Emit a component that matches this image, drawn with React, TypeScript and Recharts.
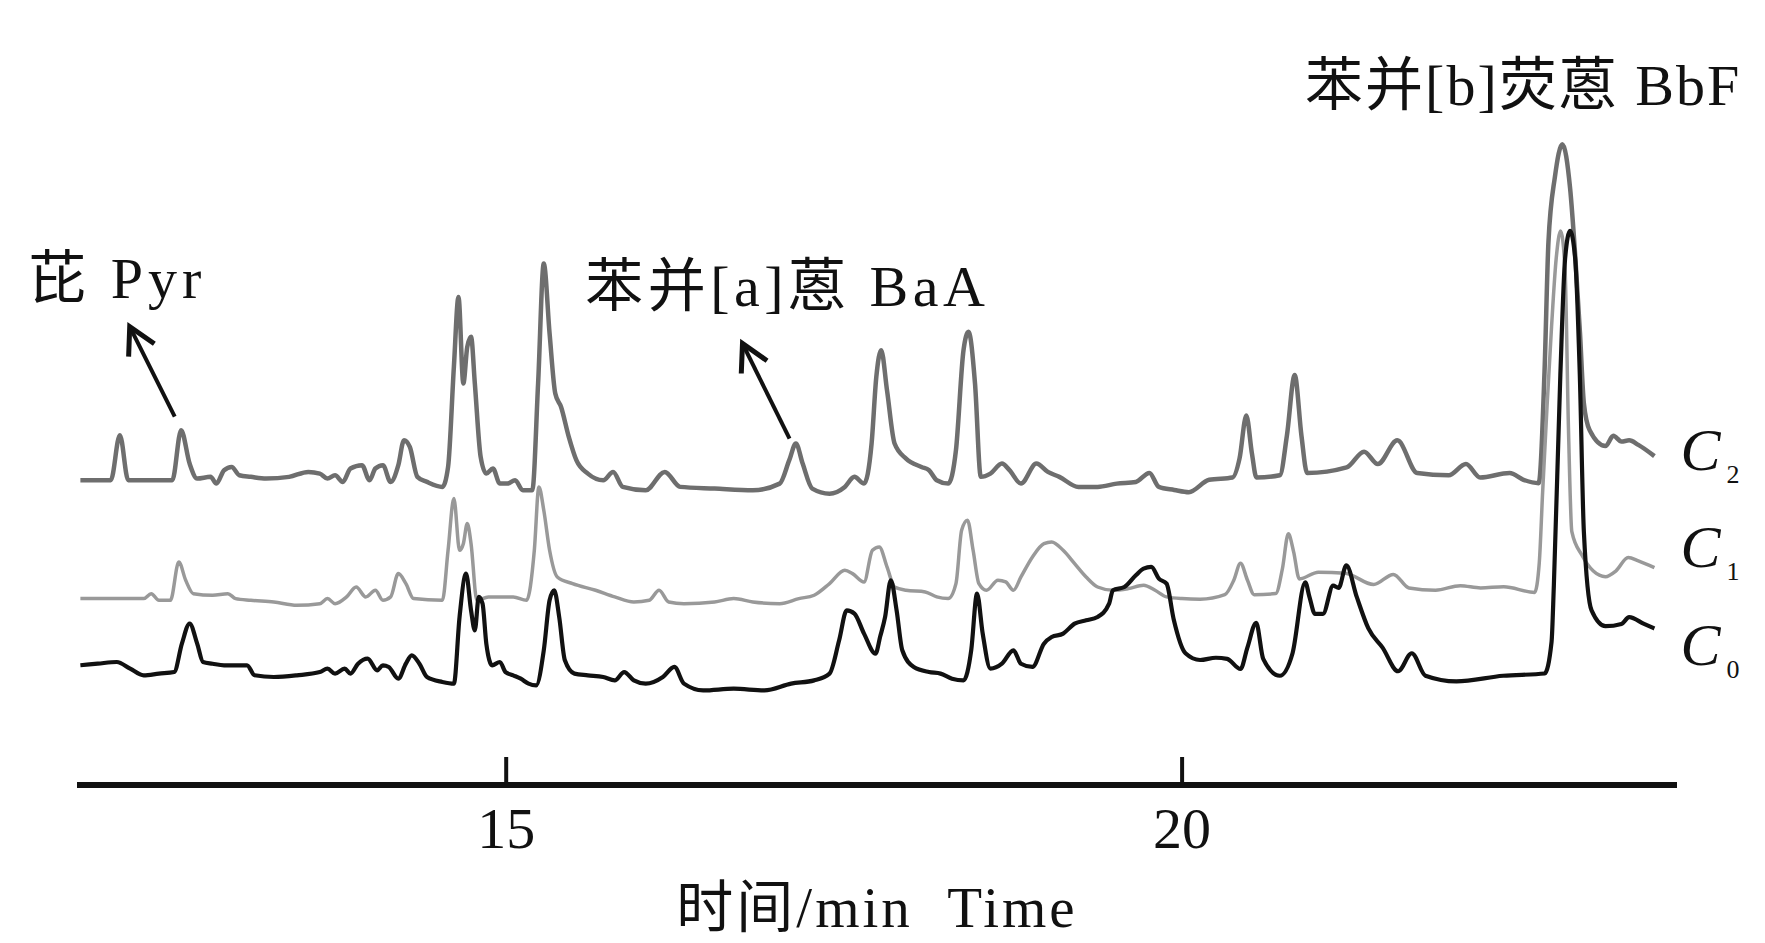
import { LineChart, Line, XAxis, YAxis, ReferenceDot, ReferenceLine } from "recharts";

// retention time (min), detector signal (traces offset as in the figure)
const c2Trace: [number, number][] = [
  [11.85, 270.6], [12.075, 270.6], [12.142, 310.6], [12.204, 270.6], [12.53, 270.6], [12.595, 315],
  [12.658, 285.4], [12.714, 272.1], [12.813, 273.6], [12.856, 267.6], [12.913, 279.5], [12.969, 282.4],
  [13.026, 275], [13.111, 273.6], [13.224, 272.1], [13.394, 273.6], [13.536, 278], [13.621, 276.5],
  [13.678, 272.1], [13.734, 275], [13.791, 269.1], [13.848, 281], [13.933, 284], [13.989, 270.6],
  [14.032, 281], [14.088, 284], [14.145, 269.1], [14.202, 284], [14.244, 306.1], [14.287, 300.2],
  [14.343, 273.6], [14.414, 269.1], [14.528, 264.7], [14.57, 282.4], [14.613, 371.3], [14.647, 433.4],
  [14.683, 356.5], [14.712, 389], [14.74, 397.9], [14.768, 356.5], [14.811, 291.3], [14.853, 276.5],
  [14.902, 281], [14.953, 267.6], [15.009, 267.6], [15.066, 270.6], [15.123, 261.7], [15.193, 261.7],
  [15.236, 356.5], [15.278, 463], [15.321, 400.9], [15.363, 347.6], [15.406, 335.7], [15.463, 309.1],
  [15.519, 288.4], [15.604, 276.5], [15.718, 270.6], [15.791, 278], [15.862, 264.7], [16.032, 261.7],
  [16.173, 278], [16.287, 264.7], [16.542, 263.2], [16.825, 261.7], [17.023, 267.6], [17.094, 288.4],
  [17.143, 303.2], [17.193, 285.4], [17.264, 263.2], [17.392, 258.7], [17.505, 264.7], [17.576, 273.6],
  [17.647, 267.6], [17.703, 303.2], [17.738, 362.4], [17.774, 386.1], [17.817, 350.5], [17.873, 303.2],
  [17.958, 289.8], [18.072, 282.4], [18.128, 279.5], [18.185, 270.6], [18.27, 267.6], [18.327, 297.2],
  [18.383, 386.1], [18.42, 402.4], [18.468, 356.5], [18.511, 273.6], [18.582, 276.5], [18.667, 285.4],
  [18.723, 279.5], [18.808, 267.6], [18.922, 285.4], [19.007, 278], [19.092, 273.6], [19.233, 264.7],
  [19.375, 264.7], [19.517, 267.6], [19.658, 269.1], [19.758, 277.1], [19.828, 264.7], [19.942, 262],
  [20.05, 260], [20.2, 271], [20.373, 273], [20.425, 290], [20.475, 328], [20.517, 294], [20.55, 273],
  [20.723, 275], [20.775, 310], [20.833, 364], [20.883, 310], [20.925, 277], [21.217, 282], [21.346, 296],
  [21.448, 285], [21.592, 306], [21.739, 277], [21.972, 275], [22.1, 285], [22.205, 273], [22.423, 277],
  [22.525, 271], [22.638, 268], [22.681, 367], [22.71, 482], [22.758, 540], [22.813, 569], [22.87, 530],
  [22.908, 470], [22.943, 402], [22.972, 339], [23.015, 315], [23.132, 301], [23.19, 310], [23.25, 305],
  [23.307, 306], [23.375, 302], [23.494, 292],
];

const c1Trace: [number, number][] = [
  [11.85, 165.5], [12.318, 165.5], [12.374, 169.9], [12.431, 164], [12.516, 164], [12.578, 198],
  [12.629, 181.8], [12.686, 169.9], [12.828, 168.5], [12.941, 169.9], [12.998, 165.5], [13.111, 164],
  [13.281, 162.5], [13.451, 159.6], [13.621, 161], [13.678, 165.5], [13.734, 161], [13.819, 167],
  [13.89, 175.8], [13.961, 167], [14.032, 172.9], [14.088, 164], [14.145, 167], [14.202, 187.7],
  [14.258, 178.8], [14.315, 165.5], [14.528, 164], [14.57, 208.4], [14.613, 254.3], [14.655, 208.4],
  [14.683, 214.3], [14.712, 232.1], [14.74, 214.3], [14.783, 164], [14.868, 167], [14.953, 167],
  [15.052, 167], [15.151, 164], [15.208, 208.4], [15.242, 264.7], [15.278, 243.9], [15.321, 208.4],
  [15.378, 184.7], [15.491, 178.8], [15.661, 172.9], [15.803, 167], [15.944, 162.5], [16.058, 164],
  [16.131, 172.9], [16.202, 162.5], [16.315, 161], [16.542, 162.5], [16.683, 165.5], [16.825, 162.5],
  [17.023, 161], [17.165, 165.5], [17.278, 168.5], [17.392, 178.8], [17.505, 190.6], [17.562, 187.7],
  [17.647, 180.3], [17.709, 208.4], [17.76, 211.4], [17.817, 193.6], [17.873, 175.8], [17.958, 172.9],
  [18.1, 171.4], [18.185, 167], [18.27, 165.5], [18.327, 178.8], [18.369, 226.2], [18.412, 235.1],
  [18.454, 208.4], [18.497, 178.8], [18.553, 172.9], [18.638, 181.8], [18.695, 180.3], [18.752, 172.9],
  [18.808, 184.7], [18.893, 202.5], [18.978, 214.3], [19.035, 215.8], [19.12, 208.4], [19.205, 196.6],
  [19.29, 184.7], [19.375, 175.8], [19.488, 172.9], [19.602, 174.4], [19.715, 177.3], [19.8, 172.9],
  [19.885, 167], [19.998, 165.5], [20.133, 165], [20.316, 169], [20.383, 182], [20.432, 197],
  [20.483, 182], [20.533, 169], [20.693, 170], [20.742, 192], [20.786, 223], [20.825, 207], [20.867, 183],
  [21.008, 189], [21.208, 188], [21.417, 178], [21.563, 187], [21.678, 175], [21.875, 173], [22.058, 177],
  [22.208, 175], [22.379, 176], [22.608, 171], [22.642, 197], [22.667, 260], [22.7, 337], [22.733, 407],
  [22.767, 467], [22.8, 492], [22.833, 457], [22.858, 317], [22.883, 225], [22.958, 204], [23.042, 190],
  [23.132, 185], [23.208, 190], [23.3, 202], [23.375, 199], [23.494, 193],
];

const c0Trace: [number, number][] = [
  [11.85, 106.3], [11.978, 107.7], [12.119, 109.2], [12.218, 103.3], [12.318, 97.4], [12.431, 98.9],
  [12.544, 100.3], [12.601, 125.5], [12.658, 143.3], [12.714, 125.5], [12.757, 109.2], [12.828, 107.7],
  [12.913, 106.3], [12.998, 106.3], [13.083, 106.3], [13.139, 97.4], [13.281, 95.9], [13.451, 97.4],
  [13.621, 100.3], [13.678, 103.3], [13.734, 98.9], [13.805, 103.3], [13.848, 98.9], [13.904, 107.7],
  [13.975, 112.2], [14.046, 101.8], [14.088, 106.3], [14.131, 104.8], [14.202, 94.4], [14.258, 107.7],
  [14.301, 115.1], [14.358, 107.7], [14.414, 95.9], [14.528, 91.5], [14.613, 90], [14.655, 149.2],
  [14.703, 187.7], [14.74, 155.1], [14.768, 137.3], [14.797, 167], [14.825, 161], [14.853, 125.5],
  [14.896, 106.3], [14.953, 109.2], [14.995, 100.3], [15.052, 97.4], [15.108, 94.4], [15.165, 90],
  [15.222, 88.5], [15.278, 119.6], [15.321, 164], [15.355, 172.9], [15.392, 149.2], [15.434, 110.7],
  [15.505, 98.9], [15.604, 97.4], [15.718, 95.9], [15.803, 92.9], [15.873, 100.3], [15.944, 92.9],
  [16.032, 90], [16.159, 95.9], [16.244, 104.8], [16.315, 90], [16.457, 84], [16.683, 85.5], [16.91, 84],
  [17.108, 90], [17.278, 92.9], [17.392, 98.9], [17.463, 128.5], [17.519, 155.1], [17.576, 152.2],
  [17.647, 134.4], [17.732, 116.6], [17.767, 132], [17.803, 149.2], [17.845, 181.8], [17.888, 155.1],
  [17.93, 119.6], [18.015, 104.8], [18.128, 100.3], [18.213, 98.9], [18.298, 94.4], [18.383, 92.9],
  [18.44, 119.6], [18.483, 169.9], [18.525, 134.4], [18.582, 103.3], [18.667, 107.7], [18.752, 119.6],
  [18.808, 107.7], [18.893, 104.8], [18.978, 125.5], [19.035, 131.4], [19.12, 134.4], [19.205, 143.3],
  [19.29, 146.2], [19.375, 149.2], [19.46, 161], [19.488, 172.9], [19.573, 175.8], [19.658, 186.2],
  [19.715, 192.1], [19.772, 193.6], [19.828, 183.2], [19.885, 178.8], [19.938, 147], [20.025, 117],
  [20.133, 111], [20.25, 113], [20.333, 112], [20.432, 103], [20.483, 122], [20.548, 144], [20.6, 112],
  [20.723, 97], [20.817, 117], [20.911, 180], [20.942, 167], [20.983, 152], [21.042, 152], [21.117, 177],
  [21.158, 175], [21.215, 195], [21.292, 167], [21.378, 139], [21.483, 122], [21.598, 101], [21.699, 117],
  [21.8, 97], [22.029, 92], [22.375, 97], [22.682, 99], [22.733, 127], [22.75, 177], [22.798, 364],
  [22.833, 467], [22.87, 492], [22.908, 467], [22.942, 364], [22.972, 225], [23.029, 155], [23.132, 141],
  [23.25, 143], [23.307, 149], [23.417, 143], [23.494, 139],
];

const timeTicks = [15, 20];
const timeDomain: [number, number] = [11.825, 23.661];
const signalDomain: [number, number] = [0, 697];

const peakNames = ["芘 Pyr", "苯并[a]蒽 BaA", "苯并[b]荧蒽 BbF"];
const peakNameAt: [number, number][] = [[11.465, 432], [15.584, 425], [20.91, 604]];
const peakNameSpacing = [5, 4.5, 2];
const arrowTail: [number, number][] = [[12.548, 327], [17.096, 307.6]];
const arrowTip: [number, number][] = [[12.215, 407], [16.748, 392]];
const traceNames = ["2", "1", "0"];
const traceNameAt: [number, number][] = [[23.686, 279.4], [23.686, 193.2], [23.686, 106.2]];

const FONT = "'Liberation Serif', 'Times New Roman', 'Noto Sans CJK SC', serif";

const toRows = (pts: [number, number][]) => pts.map(([t, v]) => ({ t, v }));

const TimeTick = (props: any) => {
  const { x, y, payload } = props;
  return (
    <g>
      <line x1={x} x2={x} y1={y - 28} y2={y} stroke="#111" strokeWidth={4} />
      <text x={x} y={y + 63} textAnchor="middle" fontFamily={FONT} fontSize={58} fill="#111">
        {payload.value}
      </text>
    </g>
  );
};

const AxisTitle = (props: any) => {
  const vb = props.viewBox || { x: 77, y: 785, width: 1600, height: 158 };
  return (
    <text
      x={vb.x + vb.width / 2}
      y={vb.y + 142}
      textAnchor="middle"
      fontFamily={FONT}
      fontSize={57}
      letterSpacing={3}
      fill="#111"
    >
      时间/min{"\u00a0\u00a0"}Time
    </text>
  );
};

const Arrow = (props: any) => {
  const { x1, y1, x2, y2 } = props;
  const a = Math.atan2(y1 - y2, x1 - x2);
  const len = 30;
  const spread = 0.5;
  const b1x = x2 + len * Math.cos(a - spread);
  const b1y = y2 + len * Math.sin(a - spread);
  const b2x = x2 + len * Math.cos(a + spread);
  const b2y = y2 + len * Math.sin(a + spread);
  return (
    <g>
      <line x1={x1} y1={y1} x2={x2} y2={y2} stroke="#111" strokeWidth={4} />
      <polyline
        points={`${b1x},${b1y} ${x2},${y2} ${b2x},${b2y}`}
        fill="none"
        stroke="#111"
        strokeWidth={5}
        strokeLinejoin="miter"
      />
    </g>
  );
};

const App = () => {
  return (
    <div style={{ position: "absolute", left: 0, top: 0, width: 1765, height: 943, background: "#fff" }}>
      <LineChart width={1765} height={943} margin={{ top: 0, right: 88, bottom: 0, left: 77 }}>
        <XAxis
          type="number"
          dataKey="t"
          domain={timeDomain}
          allowDataOverflow
          ticks={timeTicks}
          interval={0}
          height={158}
          axisLine={{ stroke: "#111", strokeWidth: 6 }}
          tickLine={false}
          tickSize={0}
          tickMargin={0}
          tick={<TimeTick />}
          label={<AxisTitle />}
        />
        <YAxis hide type="number" domain={signalDomain} allowDataOverflow />
        <Line
          data={toRows(c2Trace)}
          dataKey="v"
          type="monotone"
          stroke="#6e6e6e"
          strokeWidth={4.5}
          dot={false}
          activeDot={false}
          isAnimationActive={false}
        />
        <Line
          data={toRows(c1Trace)}
          dataKey="v"
          type="monotone"
          stroke="#999999"
          strokeWidth={3.5}
          dot={false}
          activeDot={false}
          isAnimationActive={false}
        />
        <Line
          data={toRows(c0Trace)}
          dataKey="v"
          type="monotone"
          stroke="#111111"
          strokeWidth={4.2}
          dot={false}
          activeDot={false}
          isAnimationActive={false}
        />
        {arrowTail.map((tail, i) => (
          <ReferenceLine
            key={`arrow-${i}`}
            segment={[
              { x: tail[0], y: tail[1] },
              { x: arrowTip[i][0], y: arrowTip[i][1] },
            ]}
            ifOverflow="visible"
            shape={Arrow}
          />
        ))}
        {peakNames.map((name, i) => (
          <ReferenceDot
            key={`peak-${i}`}
            x={peakNameAt[i][0]}
            y={peakNameAt[i][1]}
            r={0}
            ifOverflow="visible"
            shape={(p: any) => (
              <text
                x={p.cx}
                y={p.cy}
                fontFamily={FONT}
                fontSize={58}
                letterSpacing={peakNameSpacing[i]}
                fill="#111"
              >
                {name}
              </text>
            )}
          />
        ))}
        {traceNames.map((n, i) => (
          <ReferenceDot
            key={`trace-${i}`}
            x={traceNameAt[i][0]}
            y={traceNameAt[i][1]}
            r={0}
            ifOverflow="visible"
            shape={(p: any) => (
              <text x={p.cx} y={p.cy} fontFamily={FONT} fill="#111">
                <tspan fontSize={60} fontStyle="italic">C</tspan>
                <tspan fontSize={26} dx={6} dy={13}>{n}</tspan>
              </text>
            )}
          />
        ))}
      </LineChart>
    </div>
  );
};

export default App;
